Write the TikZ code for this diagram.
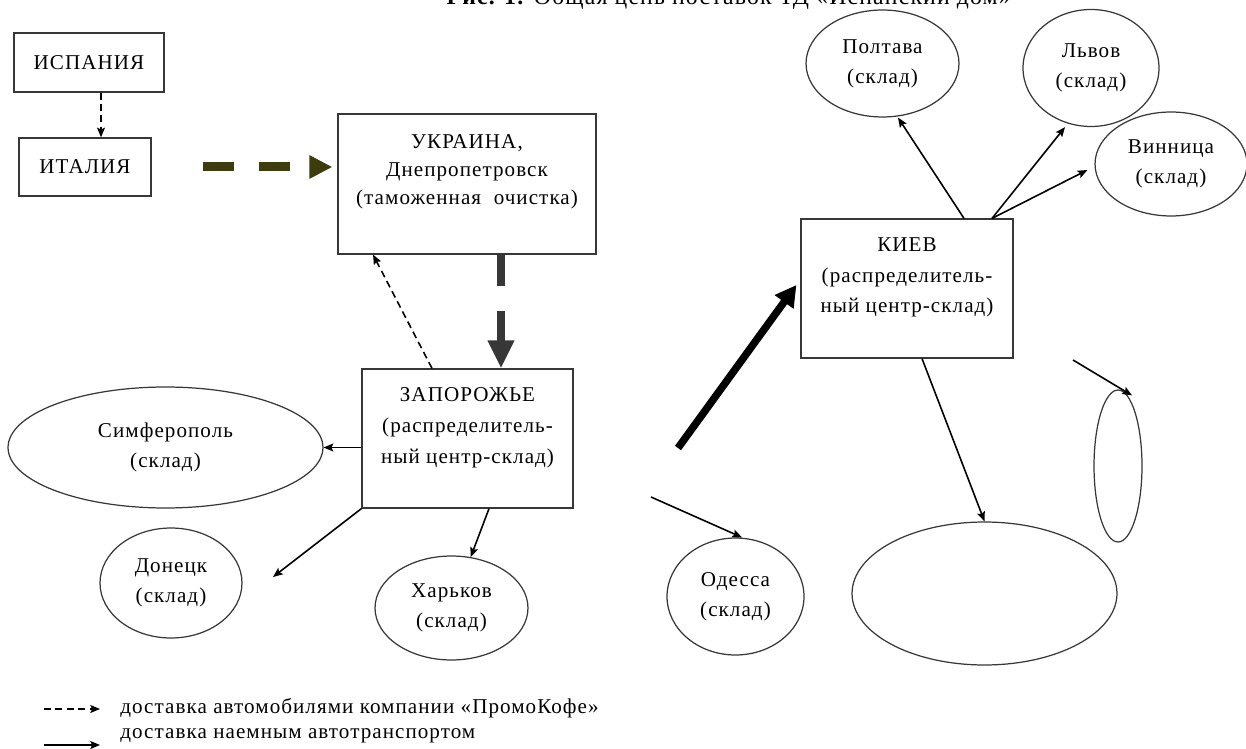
\documentclass[tikz,border=0pt]{standalone}
\usepackage{fontspec}
\setmainfont[LetterSpace=5]{Liberation Serif}
\usepackage{tikz}
\usetikzlibrary{shapes.geometric,arrows.meta}

\definecolor{olivearrow}{RGB}{60,60,15}
\definecolor{grayarrow}{RGB}{55,55,55}
\definecolor{frame}{RGB}{55,55,55}

\tikzset{
  place/.style={draw=frame, line width=0.7pt, inner sep=0pt, align=center},
  box/.style={place, rectangle},
  store/.style={place, ellipse},
  boxtext/.style={anchor=base, align=center, inner sep=0pt},
  legtext/.style={anchor=base west, inner sep=0pt},
  solidarrow/.style={-{Stealth[length=5.5pt,width=4.5pt,inset=1pt]}, line width=0.9pt},
  dasharrow/.style={solidarrow, dash pattern=on 4pt off 2.5pt},
  import/.style={-{Triangle[length=0.46cm,width=0.44cm]}, draw=olivearrow,
    line width=0.18cm, dash pattern=on 0.62cm off 0.5cm},
  transit/.style={-{Triangle[length=0.56cm,width=0.5cm]}, draw=grayarrow,
    line width=0.16cm, dash pattern=on 0.62cm off 0.5cm},
  mainroute/.style={-{Triangle[length=0.42cm,width=0.44cm]}, line width=0.15cm},
}

\begin{document}
\begin{tikzpicture}[x=0.02cm, y=-0.02cm, font=\fontsize{12}{17}\selectfont]
        \useasboundingbox (0,0) rectangle (1246,749);
        \node[anchor=base east, font=\fontsize{13.5}{16}\selectfont] (title) at (1017,5)
          {\textbf{Рис. 1.} Общая цепь поставок ТД «Испанский дом»};

        \node[box, minimum width=3cm, minimum height=1.18cm] (spain) at (89,62.5) {ИСПАНИЯ};
        \node[box, minimum width=2.64cm, minimum height=1.16cm] (italy) at (85,167) {ИТАЛИЯ};
        \node[box, minimum width=5.16cm, minimum height=2.8cm] (ukraine) at (467,184) {};
        \node[boxtext, font=\fontsize{12}{16}\selectfont] (ukrainetext) at (467,204.5)
          {УКРАИНА,\\Днепропетровск\\(таможенная\ \ очистка)};
        \node[box, minimum width=4.22cm, minimum height=2.78cm] (zap) at (467.5,438.5) {};
        \node[boxtext, font=\fontsize{12}{17.5}\selectfont] (zaptext) at (467.5,463)
          {ЗАПОРОЖЬЕ\\(распределитель-\\ный центр-склад)};
        \node[box, minimum width=4.24cm, minimum height=2.78cm] (kiev) at (907,288.5) {};
        \node[boxtext, font=\fontsize{12}{17.5}\selectfont] (kievtext) at (907,313)
          {КИЕВ\\(распределитель-\\ный центр-склад)};

        \node[store, minimum width=6.3cm, minimum height=2.42cm] (simf) at (165.5,447.5) {Симферополь\\(склад)};
        \node[store, minimum width=2.84cm, minimum height=2.2cm] (donetsk) at (171,583) {Донецк\\(склад)};
        \node[store, minimum width=3.06cm, minimum height=2.08cm] (kharkov) at (451.5,608) {Харьков\\(склад)};
        \node[store, minimum width=2.74cm, minimum height=2.34cm] (odessa) at (735.5,596.5) {Одесса\\(склад)};
        \node[store, minimum width=3.06cm, minimum height=2.14cm] (poltava) at (882.5,63.5) {Полтава\\(склад)};
        \node[store, minimum width=2.72cm, minimum height=2.34cm] (lviv) at (1091,68) {Львов\\(склад)};
        \node[store, minimum width=3.04cm, minimum height=2.08cm] (vinnytsia) at (1171,164) {Винница\\(склад)};
        \node[store, minimum width=5.3cm, minimum height=2.86cm] (bigstore) at (984.5,593.5) {};
        \node[store, minimum width=0.96cm, minimum height=3.04cm] (tallstore) at (1118,466) {};

        \coordinate (donend) at (273,577);
        \coordinate (kievin) at (678,448);
        \coordinate (odesin) at (651,497);
        \coordinate (tallin) at (1073,360);

        \draw[dasharrow] ([xshift=0.24cm]spain.south) -- ([xshift=0.24cm]spain.south |- italy.north);
        \draw[import, shorten <=1.02cm, shorten >=0.1cm] (italy.east) -- (italy.east -| ukraine.west);
        \draw[transit] ([xshift=0.68cm]ukraine.south) -- ([xshift=0.68cm]ukraine.south |- zap.north);
        \draw[dasharrow] ([xshift=-0.71cm]zap.north) -- ([xshift=-1.88cm]ukraine.south);

        \draw[solidarrow] (zap.west |- simf.east) -- (simf.east);
        \draw[solidarrow] (zap.south west) -- (donend);
        \draw[solidarrow] ([xshift=0.43cm]zap.south) -- (kharkov);
        \draw[mainroute] (kievin) -- ([shift={(-0.08cm,0.07cm)}]kiev.west);
        \draw[solidarrow] (odesin) -- ([xshift=0.13cm]odessa.north);

        \draw[solidarrow] ([xshift=1.14cm]kiev.north) -- ([xshift=0.31cm]poltava.south);
        \draw[solidarrow] ([xshift=1.7cm]kiev.north) -- ([xshift=-0.52cm]lviv.south);
        \draw[solidarrow] ([xshift=1.7cm]kiev.north) -- ([shift={(-0.14cm,-0.12cm)}]vinnytsia.west);
        \draw[solidarrow] ([xshift=0.3cm]kiev.south) -- (bigstore.north);
        \draw[solidarrow] (tallin) -- ([shift={(0.28cm,-0.12cm)}]tallstore.north);

        % legend
        \coordinate (leg1a) at (44,709);
        \coordinate (leg1b) at (100,709);
        \coordinate (leg2a) at (44,745);
        \coordinate (leg2b) at (100,745);
        \draw[dasharrow] (leg1a) -- (leg1b);
        \draw[solidarrow] (leg2a) -- (leg2b);
        \node[legtext] (legdash) at (120,713) {доставка автомобилями компании «ПромоКофе»};
        \node[legtext] (legsolid) at (120,738) {доставка наемным автотранспортом};
\end{tikzpicture}
\end{document}
